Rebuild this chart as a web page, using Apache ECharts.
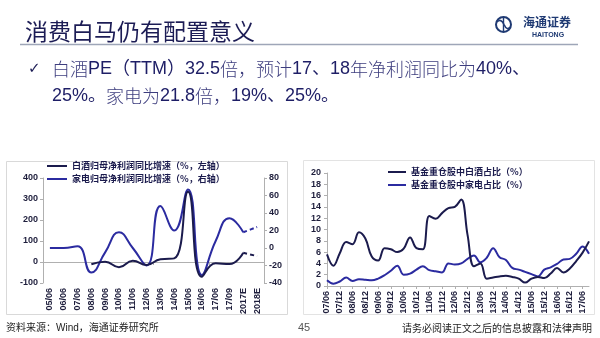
<!DOCTYPE html>
<html>
<head>
<meta charset="utf-8">
<script src="https://cdn.jsdelivr.net/npm/echarts@6/dist/echarts.min.js"></script>
<style>
html,body{margin:0;padding:0;background:#fff;}
#c{width:600px;height:338px;}
</style>
</head>
<body>
<div id="c"></div>
<script>
// ---- Left chart data (annual / interim growth, %) ----
const leftCats = ['05/06','06/06','07/06','08/06','09/06','10/06','11/06','12/06','13/06','14/06','15/06','16/06','17/06','17/09','2017E','2018E'];
const liquorGrowth = [null,null,null,-11,1,-25,6,-14,13,17,335,-70,-6,-10,44,null];
const liquorGrowthEst = [null,null,null,null,null,null,null,null,null,null,null,null,null,null,44,28];
const applianceGrowth = [0,0,2,-28,-5,18,0,-20,48,20,67,-31,8,34,18,null];
const applianceGrowthEst = [null,null,null,null,null,null,null,null,null,null,null,null,null,null,18,24];

// ---- Right chart data (fund heavy-holding share, %) ----
const rightCats = ['07/06','07/09','07/12','08/03','08/06','08/09','08/12','09/03','09/06','09/09','09/12','10/03','10/06','10/09','10/12','11/03','11/06','11/09','11/12','12/03','12/06','12/09','12/12','13/03','13/06','13/09','13/12','14/03','14/06','14/09','14/12','15/03','15/06','15/09','15/12','16/03','16/06','16/09','16/12','17/03','17/06','17/09'];
const liquorShare = [5.6,3.6,5.8,7.8,7.4,9.5,8.4,5.2,4.5,6.7,6.5,6.0,6.6,8.6,6.7,6.5,12.4,11.9,12.9,13.8,14.0,15.3,9.0,3.5,4.0,1.3,1.5,1.7,1.8,1.6,1.3,0.6,1.3,1.6,1.4,2.2,3.2,2.4,3.1,4.4,5.9,7.9];
const applianceShare = [1.0,0.4,0.8,1.5,0.9,1.2,1.1,1.0,1.3,1.9,2.7,3.6,2.0,2.2,2.9,3.5,2.8,2.6,2.4,4.0,3.8,4.0,4.8,5.4,4.2,5.0,6.7,5.1,4.6,3.2,2.9,2.5,2.1,1.7,2.9,3.3,3.9,4.7,4.8,5.7,7.0,5.7];

const leftNames = ['白酒归母净利润同比增速（%，左轴）','家电归母净利润同比增速（%，右轴）'];
const rightNames = ['基金重仓股中白酒占比（%）','基金重仓股中家电占比（%）'];

const DARK = '#1b1b4d';
const BLUE = '#2b2ba0';
const AX = '#b0b0b0';
const LBL = {fontSize:9, fontWeight:'bold', color:'#1e1e3c', fontFamily:'Liberation Sans, Arial, sans-serif'};
const CJK = '"Liberation Sans", "Noto Sans CJK SC", sans-serif';
const LEGTXT = {fontSize:9, fontWeight:'bold', color:'#1b1b4d', fontFamily:'"Noto Sans CJK SC", sans-serif', lineHeight:13};

const chart = echarts.init(document.getElementById('c'), null, {renderer:'canvas'});

const bulletRich = {
  c:{fontSize:18, fontFamily:'"Noto Sans CJK SC", sans-serif', fontWeight:300, fill:'#3d3d7e', color:'#3d3d7e'},
  n:{fontSize:18, fontFamily:'"Liberation Sans", "Noto Sans CJK SC", sans-serif', fill:'#1e1e66', color:'#1e1e66'}
};

const option = {
  animation:false,
  backgroundColor:'#fff',
  legend:[
    {left:47, top:159.5, padding:0, orient:'vertical', itemGap:0, itemWidth:20, itemHeight:2, icon:'rect',
     data:leftNames, textStyle:LEGTXT},
    {left:388, top:165.5, padding:0, orient:'vertical', itemGap:0, itemWidth:18, itemHeight:2, icon:'rect',
     data:rightNames, textStyle:LEGTXT}
  ],
  grid:[
    {left:43, right:336, top:178, bottom:55},
    {left:327, right:11, top:173, bottom:52}
  ],
  xAxis:[
    {gridIndex:0, type:'category', data:leftCats, boundaryGap:true, position:'bottom',
     axisLine:{show:false, onZero:false}, axisTick:{show:false},
     axisLabel:Object.assign({rotate:90, margin:5, interval:0}, LBL)},
    {gridIndex:0, type:'category', data:leftCats, boundaryGap:true, position:'top',
     axisLine:{show:true, onZero:true, lineStyle:{color:AX, width:1}},
     axisTick:{show:true, inside:true, length:3, lineStyle:{color:AX}},
     axisLabel:{show:false}},
    {gridIndex:1, type:'category', data:rightCats, boundaryGap:false, position:'bottom',
     axisLine:{show:true, onZero:false, lineStyle:{color:AX}},
     axisTick:{show:true, interval:1, length:3, lineStyle:{color:AX}},
     axisLabel:Object.assign({rotate:90, margin:5, interval:1}, LBL)}
  ],
  yAxis:[
    {gridIndex:0, type:'value', position:'left', min:-100, max:400, interval:100,
     axisLine:{show:true, lineStyle:{color:AX}}, axisTick:{show:true, length:3, lineStyle:{color:AX}},
     splitLine:{show:false}, axisLabel:Object.assign({margin:5}, LBL)},
    {gridIndex:0, type:'value', position:'right', min:-40, max:80, interval:20,
     axisLine:{show:true, lineStyle:{color:AX}}, axisTick:{show:true, length:3, lineStyle:{color:AX}},
     splitLine:{show:false}, axisLabel:Object.assign({margin:5}, LBL)},
    {gridIndex:1, type:'value', position:'left', min:0, max:20, interval:2,
     axisLine:{show:true, lineStyle:{color:AX}}, axisTick:{show:true, length:3, lineStyle:{color:AX}},
     splitLine:{show:false}, axisLabel:Object.assign({margin:6}, LBL)}
  ],
  series:[
    {name:leftNames[0], type:'line', xAxisIndex:0, yAxisIndex:0, data:liquorGrowth, smooth:0.5, symbol:'none',
     lineStyle:{color:DARK, width:2}, itemStyle:{color:DARK}, z:3},
    {name:leftNames[0], type:'line', xAxisIndex:0, yAxisIndex:0, data:liquorGrowthEst, smooth:0.5, symbol:'none',
     lineStyle:{color:DARK, width:2, type:[4,3]}, itemStyle:{color:DARK}, z:3},
    {name:leftNames[1], type:'line', xAxisIndex:0, yAxisIndex:1, data:applianceGrowth, smooth:0.5, symbol:'none',
     lineStyle:{color:BLUE, width:2}, itemStyle:{color:BLUE}, z:2},
    {name:leftNames[1], type:'line', xAxisIndex:0, yAxisIndex:1, data:applianceGrowthEst, smooth:0.5, symbol:'none',
     lineStyle:{color:BLUE, width:2, type:[4,3]}, itemStyle:{color:BLUE}, z:2},
    {name:rightNames[0], type:'line', xAxisIndex:2, yAxisIndex:2, data:liquorShare, smooth:0.4, symbol:'none',
     lineStyle:{color:DARK, width:2}, itemStyle:{color:DARK}, z:3},
    {name:rightNames[1], type:'line', xAxisIndex:2, yAxisIndex:2, data:applianceShare, smooth:0.4, symbol:'none',
     lineStyle:{color:BLUE, width:2}, itemStyle:{color:BLUE}, z:2}
  ],
  graphic:[
    // chart frames
    {type:'rect', shape:{x:6.5, y:161.5, width:281, height:153}, style:{fill:'none', stroke:'#d9d9d9', lineWidth:1}, z:-1},
    {type:'rect', shape:{x:303.5, y:160.5, width:291, height:154}, style:{fill:'none', stroke:'#e3e3e3', lineWidth:1}, z:-1},
    // title
    {type:'text', x:25, y:31, style:{text:'消费白马仍有配置意义', fill:'#1c1c55', font:'23px "Noto Sans CJK SC", sans-serif', textVerticalAlign:'middle'}},
    // rule
    {type:'line', shape:{x1:20, y1:44.5, x2:578, y2:44.5}, style:{stroke:'#9ea6b8', lineWidth:1.5}},
    // logo emblem
    {type:'circle', shape:{cx:503.5, cy:24.5, r:7.5}, style:{fill:'none', stroke:'#1f3a73', lineWidth:2}},
    {type:'bezierCurve', shape:{x1:497, y1:22, cpx1:501, cpy1:18, x2:504, y2:24.5}, style:{fill:'none', stroke:'#1f3a73', lineWidth:1.6}},
    {type:'bezierCurve', shape:{x1:504, y1:24.5, cpx1:507, cpy1:31, x2:510, y2:27}, style:{fill:'none', stroke:'#1f3a73', lineWidth:1.6}},
    {type:'line', shape:{x1:503.5, y1:17.5, x2:503.5, y2:31.5}, style:{stroke:'#1f3a73', lineWidth:1.4}},
    {type:'text', x:523, y:22, style:{text:'海通证券', fill:'#1f3a73', font:'bold 12px "Noto Sans CJK SC", sans-serif', textVerticalAlign:'middle'}},
    {type:'text', x:548, y:35, style:{text:'HAITONG', fill:'#1f3a73', font:'bold 7px "Liberation Sans", sans-serif', textAlign:'center', textVerticalAlign:'middle'}},
    // bullet
    {type:'text', x:28, y:69, style:{text:'✓', fill:'#1c1c55', font:'15px "DejaVu Sans", sans-serif', textVerticalAlign:'middle'}},
    {type:'text', x:52, y:69, style:{text:'{c|白酒}{n|PE（TTM）32.5}{c|倍，预计}{n|17、18}{c|年净利润同比为}{n|40%、}', rich:bulletRich, textVerticalAlign:'middle'}},
    {type:'text', x:52, y:96, style:{text:'{n|25%。}{c|家电为}{n|21.8}{c|倍，}{n|19%、25%。}', rich:bulletRich, textVerticalAlign:'middle'}},
    // footer
    {type:'text', x:6, y:328, style:{text:'资料来源：Wind，海通证券研究所', fill:'#222', font:'10px ' + CJK, textVerticalAlign:'middle'}},
    {type:'text', x:304, y:328, style:{text:'45', fill:'#555', font:'11px "Liberation Sans", sans-serif', textAlign:'center', textVerticalAlign:'middle'}},
    {type:'text', x:592, y:328, style:{text:'请务必阅读正文之后的信息披露和法律声明', fill:'#222', font:'10px "Noto Sans CJK SC", sans-serif', textAlign:'right', textVerticalAlign:'middle'}}
  ]
};
chart.setOption(option);
</script>
</body>
</html>
